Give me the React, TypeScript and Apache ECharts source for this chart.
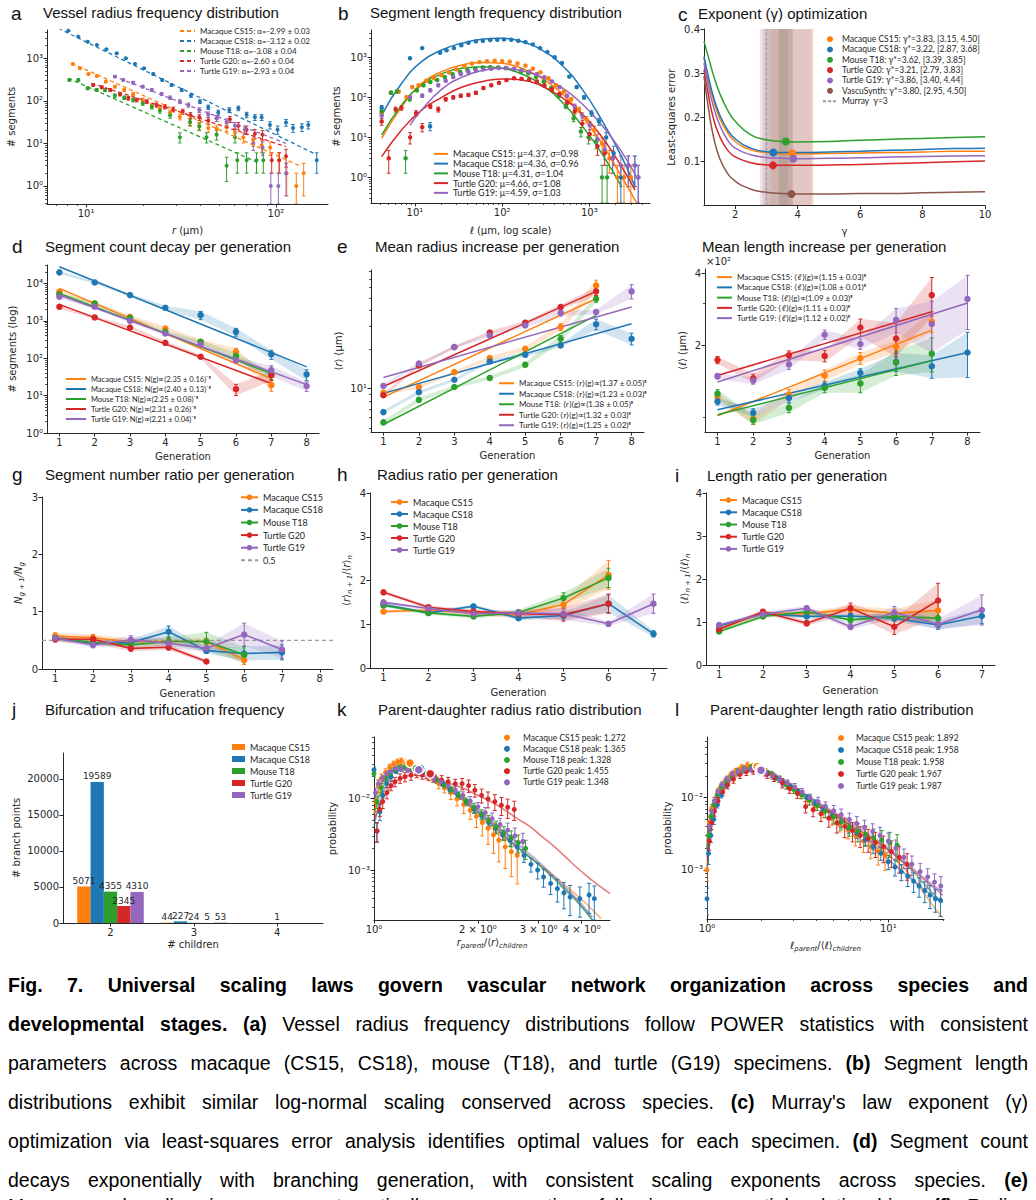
import React, { useEffect, useRef } from 'react';
import * as echarts from 'echarts';

// ---------------- shared ----------------
const COL = ['#ff7f0e', '#1f77b4', '#2ca02c', '#d62728', '#9467bd'];
const BROWN = '#8c564b';
const SPECIES = ['Macaque CS15', 'Macaque CS18', 'Mouse T18', 'Turtle G20', 'Turtle G19'];
const INK = '#262626';
const TICKF = 'DejaVu Sans';
const LEGF = 'Lato';
const TITLEF = 'Liberation Sans';

// ---------------- a: radius frequency ----------------
const A_CS15 = [[8.51,736],[9.3,582],[10.3,429],[11.4,384],[12.7,283],[14.2,216],[15.9,180],[17.7,143],[19.9,105],[22.2,76],[24.5,67],[27.7,53],[31.2,42],[35.3,31],[39.5,26],[44,23],[48.7,22],[55,24],[60.9,18],[67.3,14],[76,12],[84.1,9],[93.2,8],[104,4],[114,2],[128,1],[140,2]];
const A_CS18 = [[7.24,4890],[8.07,4470],[9.11,3230],[10.2,2460],[11.4,2060],[12.8,1630],[14.5,1310],[16.2,1000],[18.1,736],[20.2,582],[22.6,428],[25.2,310],[28.2,236],[31.9,180],[35.7,133],[39.8,96],[44,71],[49.7,53],[56.8,61],[63.4,67],[70.1,47],[77.5,41],[84.1,41],[93,27],[102,21],[113,31],[123,23],[137,24],[148,27],[164,4]];
const A_T18 = [[8.17,310],[9.11,310],[10.2,197],[11.4,180],[12.6,180],[14.2,133],[15.9,119],[17.7,105],[19.9,88],[22.2,73],[24.5,59],[27.7,46],[31.2,14],[35.3,32],[39.5,25],[43.1,14],[48.7,16],[55,3],[60.9,14],[62.6,4],[70.1,4],[79,4],[85.8,4]];
const A_G20 = [[10.9,236],[12.1,208],[13.4,180],[15.1,143],[16.7,115],[18.5,105],[20.9,96],[23.5,80],[26,73],[28.8,63],[32.3,56],[35.5,46],[39.5,41],[44,34],[48.7,39],[57.2,37],[63.4,26],[70.1,21],[77.5,17],[85,16],[95,4],[104,4],[113,5]];
const A_G19 = [[14.2,371],[15.7,310],[17.7,268],[19.9,216],[22.2,180],[25,145],[27.7,119],[31.2,96],[34.6,80],[39.5,61],[44,48],[48.7,39],[55,32],[60.9,26],[68.5,21],[76,10],[85,8],[94,1],[103,1],[113,2]];
const A_PTS = [A_CS15, A_CS18, A_T18, A_G20, A_G19];
const A_FIT = [[[8.4,763],[136,2.86]], [[7.15,5070],[164,5.4]], [[8.07,340],[82,3.4]], [[10.7,259],[113,8.4]], [[13.9,384],[113,10]]];
const A_LEG = ['Macaque CS15: α=-2.99 ± 0.03', 'Macaque CS18: α=-3.12 ± 0.02', 'Mouse T18: α=-3.08 ± 0.04', 'Turtle G20: α=-2.60 ± 0.04', 'Turtle G19: α=-2.93 ± 0.04'];

// ---------------- b: length frequency ----------------
const B_CS15 = [[4.15,40],[5.3,130],[6.5,140],[8,100],[9.3,180],[11,200],[13.5,260],[16.5,300],[20,360],[24.5,420],[30,500],[37,600],[45,700],[55,760],[67,800],[82,820],[100,800],[122,780],[150,700],[185,620],[225,520],[275,420],[340,300],[415,200],[510,140],[620,90],[760,50],[930,28],[1140,15],[1400,7],[1700,3],[2100,1],[2500,1],[3000,1]];
const B_CS18 = [[4.15,55],[8.76,950],[12.1,1700],[14.9,19],[19.4,1300],[23,1500],[28,1700],[34,2000],[41,2300],[50,2500],[60,2600],[73,2700],[88,2750],[105,2800],[127,2750],[153,2600],[185,2400],[225,2100],[272,1700],[330,1350],[400,1000],[485,720],[590,330],[715,180],[870,100],[1060,40],[1290,25],[1560,10],[1900,4],[2300,1],[2800,2],[3340,2],[3640,1]];
const B_T18 = [[4.15,45],[5.3,130],[6.2,140],[7.8,3],[8.7,90],[10.5,150],[12.5,200],[15,240],[18,270],[22,320],[27,380],[33,430],[40,480],[49,520],[60,560],[73,570],[90,560],[110,540],[135,500],[165,450],[200,400],[245,320],[300,250],[365,170],[445,110],[540,60],[660,30],[800,14],[980,10],[1200,8],[1400,1],[1600,1]];
const B_G20 = [[4.15,25],[5,3],[6,50],[7,55],[8.8,10],[10.3,40],[12.1,18],[15,60],[18.5,50],[22.5,90],[27.5,100],[33.5,110],[41,115],[50,130],[61,170],[75,200],[92,230],[112,270],[137,300],[167,290],[204,280],[250,250],[305,200],[372,160],[455,120],[555,75],[680,45],[830,22],[1010,12],[1240,6],[1500,4],[1850,3]];
const B_G19 = [[4.15,35],[8.76,100],[12.1,110],[15,150],[18.5,200],[22.5,260],[27.5,320],[33.5,380],[41,430],[50,470],[61,500],[75,520],[92,540],[112,540],[137,520],[167,480],[204,440],[250,380],[305,320],[372,250],[455,180],[555,110],[680,60],[830,35],[1010,20],[1240,9],[1500,5],[1850,3],[2300,2],[2800,2],[3300,2],[3640,1]];
const B_PTS = [B_CS15, B_CS18, B_T18, B_G20, B_G19];
const B_FIT = [
  [[4.15,9.4],[7.03,58],[11.9,224],[20.2,438],[34.3,643],[58.2,740],[98.5,708],[168,531],[284,299],[482,126],[815,36],[1387,7.1],[2345,1.04],[3490,0.23]],
  [[4.15,36],[7.03,224],[11.9,780],[20.2,1526],[34.3,2240],[58.2,2820],[98.5,2985],[168,2460],[284,1526],[482,643],[815,168],[1387,27],[2345,3.3],[3340,0.58]],
  [[4.15,11.4],[7.03,64],[11.9,203],[20.2,383],[34.3,531],[58.2,584],[98.5,531],[168,383],[284,203],[482,78],[815,20.3],[1387,4],[2345,0.58]],
  [[4.15,3.3],[7.03,15.3],[11.9,48],[20.2,100],[34.3,178],[58.2,246],[98.5,287],[168,271],[284,192],[482,100],[815,40],[1387,10.4],[2345,1.85],[3340,0.48]],
  [[8.77,20.3],[11.9,48],[20.2,158],[34.3,316],[58.2,464],[98.5,531],[168,464],[284,324],[482,178],[815,71],[1387,20.3],[2345,4.4],[3640,0.86]],
];
const B_LEG = ['Macaque CS15: μ=4.37, σ=0.98', 'Macaque CS18: μ=4.36, σ=0.96', 'Mouse T18: μ=4.31, σ=1.04', 'Turtle G20: μ=4.66, σ=1.08', 'Turtle G19: μ=4.59, σ=1.03'];

// ---------------- c: exponent optimisation ----------------
const C_GAMMA = [1, 1.15, 1.3, 1.5, 1.75, 2, 2.5, 3, 3.5, 4, 5, 6, 7, 8, 9, 10];
const C_ERR = [
  [0.334,0.281,0.240,0.198,0.166,0.145,0.126,0.120,0.117,0.117,0.118,0.119,0.120,0.121,0.123,0.123],
  [0.338,0.289,0.247,0.206,0.172,0.151,0.130,0.122,0.120,0.120,0.121,0.123,0.125,0.127,0.129,0.130],
  [0.372,0.334,0.296,0.255,0.217,0.191,0.160,0.149,0.145,0.144,0.145,0.148,0.150,0.152,0.154,0.156],
  [0.308,0.247,0.198,0.157,0.126,0.110,0.097,0.092,0.091,0.091,0.092,0.093,0.095,0.097,0.099,0.101],
  [0.323,0.268,0.225,0.183,0.149,0.130,0.115,0.109,0.107,0.106,0.107,0.108,0.110,0.111,0.112,0.113],
  [0.293,0.217,0.157,0.107,0.073,0.055,0.037,0.030,0.027,0.026,0.026,0.027,0.027,0.029,0.030,0.031],
];
const C_OPT = [3.83, 3.22, 3.62, 3.21, 3.86, 3.80];
const C_OPT_ERR = [0.118, 0.120, 0.145, 0.091, 0.106, 0.026];
const C_CI = [[3.15,4.50],[2.87,3.68],[3.39,3.85],[2.79,3.83],[3.40,4.44],[2.95,4.50]];
const C_LEG = ['Macaque CS15: γ*=3.83, [3.15, 4.50]', 'Macaque CS18: γ*=3.22, [2.87, 3.68]', 'Mouse T18: γ*=3.62, [3.39, 3.85]', 'Turtle G20: γ*=3.21, [2.79, 3.83]', 'Turtle G19: γ*=3.86, [3.40, 4.44]', 'VascuSynth: γ*=3.80, [2.95, 4.50]'];
const MURRAY = 3;

// ---------------- d: segment counts ----------------
const D_VAL = [
  [5980,2910,1280,624,274,148,19],
  [19700,10600,4870,2230,1420,507,128,37],
  [5070,2900,1200,507,274,115,35],
  [2370,1230,662,257,109,15,35],
  [4400,2370,1000,457,232,88,48,18],
];
const D_ERR = [
  [600,250,120,80,40,35,6],
  [2000,800,400,300,350,120,35,12],
  [500,250,100,50,30,25,8],
  [300,100,60,30,12,5,10],
  [500,250,120,50,30,15,15,5],
];
const D_FIT = [[[1,7350],[7,28.5]], [[1,27900],[8,58.6]], [[1,5400],[7,38.8]], [[1,2740],[7,21]], [[1,4870],[8,19.7]]];
const D_LEG = ['Macaque CS15: N(g)∝(2.35 ± 0.16)⁻ᵍ', 'Macaque CS18: N(g)∝(2.40 ± 0.13)⁻ᵍ', 'Mouse T18: N(g)∝(2.25 ± 0.08)⁻ᵍ', 'Turtle G20: N(g)∝(2.31 ± 0.26)⁻ᵍ', 'Turtle G19: N(g)∝(2.21 ± 0.04)⁻ᵍ'];

// ---------------- e: mean radius ----------------
const E_VAL = [
  [9.3,10.3,13.4,17.2,20.3,29.8,62.3],
  [6.6,9.4,11.7,16.2,18.3,21.5,31.3,24.2],
  [5.5,8.2,10.3,12.1,15.3,24.2,49.2],
  [8.9,15.1,20.9,27,32.2,42.5,56.1],
  [10.5,15.6,20.9,25.7,30.7,38.2,38.9,56.1],
];
const E_ERR = [
  [0.3,0.3,0.4,0.6,0.8,1.8,6],
  [0.2,0.3,0.3,0.5,0.8,0.6,3,2.5],
  [0.2,0.3,0.3,0.4,0.6,1.5,3],
  [0.3,0.4,0.5,0.8,1,2,4],
  [0.3,0.4,0.5,0.7,1,2,1.5,7],
];
const E_FIT = [[[1,8.6],[7,49.2]], [[1,9.2],[8,31.6]], [[1,5.3],[7,36.7]], [[1,10.4],[7,56.1]], [[1,12.2],[8,42.5]]];
const E_LEG = ['Macaque CS15: ⟨r⟩(g)∝(1.37 ± 0.05)ᵍ', 'Macaque CS18: ⟨r⟩(g)∝(1.23 ± 0.03)ᵍ', 'Mouse T18: ⟨r⟩(g)∝(1.38 ± 0.05)ᵍ', 'Turtle G20: ⟨r⟩(g)∝(1.32 ± 0.03)ᵍ', 'Turtle G19: ⟨r⟩(g)∝(1.25 ± 0.02)ᵍ'];

// ---------------- f: mean length ----------------
const F_VAL = [
  [121,98,124,149,176,197,251],
  [116,104,120,135,153,170,163,186],
  [125,97,109,132,138,169,184],
  [173,145,181,180,237,213,324],
  [148,142,166,221,202,255,245,312],
];
const F_ERR = [
  [4,5,6,8,10,12,25],
  [4,4,5,5,6,15,18,40],
  [5,4,5,6,12,20,30],
  [6,6,8,10,20,35,60],
  [4,5,8,10,10,30,60,80],
];
const F_FIT = [[[1,101],[7,231]], [[1,107],[8,186]], [[1,102],[7,172]], [[1,149],[7,276]], [[1,140],[8,300]]];
const F_LEG = ['Macaque CS15: ⟨ℓ⟩(g)∝(1.15 ± 0.03)ᵍ', 'Macaque CS18: ⟨ℓ⟩(g)∝(1.08 ± 0.01)ᵍ', 'Mouse T18: ⟨ℓ⟩(g)∝(1.09 ± 0.03)ᵍ', 'Turtle G20: ⟨ℓ⟩(g)∝(1.11 ± 0.03)ᵍ', 'Turtle G19: ⟨ℓ⟩(g)∝(1.12 ± 0.02)ᵍ'];

// ---------------- g/h/i: ratios ----------------
const G_VAL = [
  [0.58,0.54,0.48,0.48,0.48,0.16],
  [0.54,0.45,0.46,0.65,0.32,0.27,0.29],
  [0.54,0.46,0.42,0.48,0.48,0.25],
  [0.52,0.52,0.36,0.38,0.13],
  [0.54,0.42,0.51,0.45,0.36,0.6,0.34],
];
const G_ERR = [
  [0.05,0.06,0.05,0.05,0.06,0.08],
  [0.04,0.04,0.05,0.1,0.05,0.12,0.13],
  [0.04,0.04,0.05,0.08,0.16,0.14],
  [0.05,0.07,0.05,0.05,0.03],
  [0.05,0.05,0.07,0.08,0.06,0.2,0.15],
];
const G_REF = 0.5;
const H_VAL = [
  [1.29,1.32,1.26,1.22,1.45,2.13],
  [1.45,1.26,1.41,1.14,1.2,1.47,0.78],
  [1.43,1.26,1.18,1.27,1.6,2.06],
  [1.73,1.39,1.29,1.24,1.22,1.47],
  [1.5,1.36,1.24,1.26,1.24,1.01,1.47],
];
const H_ERR = [
  [0.03,0.04,0.05,0.08,0.12,0.33],
  [0.03,0.04,0.04,0.05,0.08,0.2,0.07],
  [0.03,0.04,0.04,0.06,0.12,0.22],
  [0.04,0.04,0.05,0.07,0.15,0.22],
  [0.03,0.04,0.05,0.06,0.14,0.05,0.22],
];
const I_VAL = [
  [0.85,1.2,1.19,1.3,1.2,1.27],
  [0.91,1.19,1.13,1.14,1.09,0.93,1.14],
  [0.78,1.13,1.24,1.05,1.13,1.09],
  [0.83,1.24,0.97,1.32,0.89,1.5],
  [0.93,1.18,1.32,0.89,1.22,0.95,1.28],
];
const I_ERR = [
  [0.04,0.05,0.06,0.08,0.1,0.25],
  [0.04,0.04,0.05,0.06,0.07,0.1,0.18],
  [0.04,0.04,0.05,0.06,0.1,0.15],
  [0.04,0.05,0.06,0.12,0.18,0.4],
  [0.04,0.05,0.06,0.07,0.14,0.12,0.35],
];

// ---------------- j: branching ----------------
const J_CHILDREN = [2, 3, 4];
const J_COUNTS = [[5071,44,0],[19589,227,0],[4355,24,1],[2345,5,0],[4310,53,0]];

// ---------------- k: radius ratio distribution [x, p, relErr] ----------------
const K_CS15 = [[1.01,0.009,0.3],[1.03,0.015,0.2],[1.05,0.019,0.15],[1.08,0.023,0.12],[1.11,0.027,0.1],[1.14,0.03,0.1],[1.17,0.032,0.1],[1.2,0.033,0.1],[1.24,0.031,0.1],[1.28,0.029,0.1],[1.32,0.026,0.1],[1.37,0.024,0.12],[1.42,0.021,0.12],[1.48,0.019,0.12],[1.54,0.016,0.15],[1.6,0.014,0.15],[1.67,0.012,0.2],[1.74,0.0098,0.2],[1.82,0.0082,0.25],[1.9,0.0068,0.25],[1.98,0.0056,0.3],[2.06,0.0046,0.35],[2.14,0.0038,0.4],[2.22,0.0031,0.45],[2.3,0.0026,0.5],[2.4,0.0021,0.5],[2.5,0.0018,0.55],[2.6,0.0016,0.6]];
const K_CS18 = [[1.0,0.025,0.1],[1.02,0.0035,0.3],[1.04,0.0065,0.25],[1.06,0.011,0.15],[1.09,0.016,0.12],[1.12,0.02,0.1],[1.16,0.024,0.08],[1.2,0.026,0.08],[1.25,0.027,0.08],[1.3,0.026,0.08],[1.36,0.024,0.08],[1.42,0.022,0.08],[1.5,0.019,0.08],[1.58,0.016,0.08],[1.66,0.013,0.1],[1.75,0.011,0.1],[1.85,0.0088,0.1],[1.95,0.007,0.12],[2.05,0.0057,0.12],[2.15,0.0046,0.12],[2.25,0.0038,0.15],[2.36,0.0031,0.15],[2.48,0.0026,0.18],[2.6,0.0021,0.2],[2.72,0.0016,0.2],[2.85,0.0012,0.22],[2.98,0.001,0.25],[3.1,0.0008,0.28],[3.25,0.00065,0.3],[3.4,0.00055,0.35],[3.55,0.00048,0.4],[3.7,0.00042,0.45],[3.95,0.0004,0.45],[4.2,0.00045,0.45],[4.35,0.0004,0.5]];
const K_T18 = [[1.0,0.022,0.1],[1.02,0.009,0.2],[1.05,0.014,0.15],[1.08,0.019,0.1],[1.11,0.022,0.1],[1.15,0.025,0.08],[1.19,0.027,0.08],[1.23,0.027,0.08],[1.28,0.026,0.08],[1.33,0.025,0.08],[1.39,0.023,0.08],[1.45,0.021,0.08],[1.52,0.018,0.1],[1.6,0.015,0.1],[1.68,0.013,0.1],[1.76,0.011,0.12],[1.85,0.009,0.12],[1.95,0.0074,0.15],[2.05,0.006,0.15],[2.15,0.0049,0.18],[2.26,0.004,0.2],[2.38,0.0033,0.22],[2.5,0.0028,0.25],[2.62,0.0024,0.28],[2.75,0.002,0.3]];
const K_G20 = [[1.02,0.0035,0.3],[1.04,0.007,0.2],[1.06,0.009,0.2],[1.09,0.012,0.18],[1.12,0.015,0.15],[1.15,0.017,0.15],[1.19,0.019,0.15],[1.23,0.02,0.15],[1.28,0.021,0.15],[1.33,0.022,0.12],[1.38,0.021,0.12],[1.44,0.02,0.12],[1.5,0.019,0.12],[1.57,0.018,0.15],[1.64,0.017,0.15],[1.72,0.016,0.15],[1.8,0.016,0.18],[1.88,0.015,0.2],[1.96,0.013,0.2],[2.05,0.011,0.22],[2.14,0.0098,0.25],[2.24,0.009,0.25],[2.34,0.008,0.28],[2.44,0.0075,0.3],[2.55,0.007,0.3]];
const K_G19 = [[1.01,0.012,0.15],[1.03,0.016,0.12],[1.06,0.019,0.1],[1.09,0.022,0.1],[1.12,0.024,0.1],[1.16,0.026,0.08],[1.2,0.026,0.08],[1.25,0.025,0.08],[1.3,0.025,0.08],[1.36,0.023,0.08],[1.42,0.021,0.1],[1.49,0.019,0.1],[1.56,0.017,0.1],[1.64,0.015,0.1],[1.72,0.013,0.12],[1.81,0.011,0.12],[1.9,0.0092,0.15],[2.0,0.0076,0.15],[2.1,0.0063,0.18],[2.2,0.0052,0.2],[2.32,0.0043,0.22],[2.44,0.0036,0.25],[2.56,0.003,0.28],[2.7,0.0025,0.3]];
const K_PTS = [K_CS15, K_CS18, K_T18, K_G20, K_G19];
const K_FIT = [
  [[1.0,0.006],[1.1,0.024],[1.2,0.031],[1.3,0.029],[1.45,0.022],[1.6,0.015],[1.8,0.0095],[2.0,0.006],[2.2,0.0038],[2.4,0.0027],[2.7,0.0018],[3.0,0.0012],[3.3,0.00085],[3.6,0.0006],[3.9,0.00043],[4.2,0.00031],[4.55,0.00021]],
  [[1.0,0.004],[1.1,0.018],[1.2,0.026],[1.35,0.025],[1.5,0.019],[1.7,0.012],[1.9,0.0078],[2.1,0.0051],[2.4,0.0029],[2.7,0.0018],[3.0,0.0012],[3.3,0.0008],[3.6,0.00053],[3.9,0.00036],[4.3,0.0002]],
  [[1.0,0.006],[1.1,0.02],[1.2,0.027],[1.35,0.025],[1.5,0.019],[1.7,0.012],[1.9,0.008],[2.1,0.0053],[2.4,0.003],[2.7,0.0018],[3.0,0.0012],[3.3,0.00078],[3.6,0.00051],[3.9,0.00035],[4.3,0.0002]],
  [[1.0,0.005],[1.1,0.013],[1.2,0.019],[1.3,0.021],[1.45,0.02],[1.6,0.017],[1.8,0.014],[2.0,0.011],[2.2,0.0088],[2.4,0.0068],[2.6,0.0052],[2.8,0.0042],[3.0,0.0032],[3.3,0.0022],[3.6,0.0015],[3.9,0.00105],[4.2,0.00078],[4.5,0.0006],[4.83,0.00047]],
  [[1.0,0.01],[1.1,0.022],[1.2,0.026],[1.35,0.023],[1.5,0.018],[1.7,0.012],[1.9,0.0085],[2.1,0.0058],[2.4,0.0033],[2.7,0.002],[3.0,0.0013],[3.3,0.00085],[3.6,0.00056],[3.9,0.00038],[4.3,0.00022]],
];
const K_PEAK = [[1.272,0.031],[1.365,0.026],[1.328,0.026],[1.455,0.022],[1.348,0.025]];
const K_LEG = ['Macaque CS15 peak: 1.272', 'Macaque CS18 peak: 1.365', 'Mouse T18 peak: 1.328', 'Turtle G20 peak: 1.455', 'Turtle G19 peak: 1.348'];

// ---------------- l: length ratio distribution [x, p, relErr] ----------------
const L_CS15 = [[1.0,0.001,0.3],[1.03,0.0045,0.2],[1.06,0.007,0.15],[1.1,0.009,0.12],[1.15,0.012,0.1],[1.2,0.014,0.1],[1.27,0.017,0.1],[1.35,0.02,0.1],[1.45,0.023,0.1],[1.55,0.026,0.1],[1.67,0.028,0.1],[1.8,0.027,0.1],[1.95,0.025,0.1],[2.1,0.023,0.1],[2.3,0.02,0.1],[2.5,0.018,0.1],[2.75,0.015,0.12],[3.0,0.013,0.12],[3.3,0.011,0.12],[3.6,0.0092,0.15],[4.0,0.0078,0.15],[4.4,0.0064,0.18],[4.9,0.0052,0.2],[5.4,0.0043,0.22],[6.0,0.0036,0.25],[6.6,0.003,0.28],[7.3,0.0025,0.3],[8.0,0.0021,0.32],[8.8,0.0018,0.35],[9.6,0.0016,0.38]];
const L_CS18 = [[1.0,0.0004,0.4],[1.02,0.0017,0.3],[1.05,0.003,0.2],[1.09,0.005,0.15],[1.14,0.008,0.1],[1.2,0.011,0.1],[1.28,0.015,0.08],[1.38,0.019,0.08],[1.5,0.022,0.08],[1.63,0.024,0.08],[1.78,0.025,0.08],[1.95,0.024,0.08],[2.15,0.022,0.08],[2.38,0.019,0.08],[2.62,0.016,0.1],[2.9,0.014,0.1],[3.2,0.012,0.1],[3.55,0.01,0.1],[3.95,0.0083,0.12],[4.4,0.0068,0.12],[4.9,0.0056,0.12],[5.45,0.0046,0.15],[6.05,0.0038,0.15],[6.7,0.0032,0.15],[7.45,0.0026,0.18],[8.25,0.0021,0.2],[9.1,0.0017,0.2],[10,0.0013,0.22],[10.9,0.0011,0.25],[11.8,0.00095,0.25],[12.8,0.00082,0.28],[13.8,0.0007,0.3],[14.8,0.0006,0.3],[15.9,0.00052,0.32],[17,0.00045,0.35],[18.2,0.0004,0.35],[19.4,0.00038,0.4]];
const L_T18 = [[1.02,0.003,0.25],[1.05,0.0055,0.2],[1.09,0.008,0.15],[1.14,0.011,0.12],[1.2,0.014,0.1],[1.28,0.017,0.1],[1.37,0.02,0.1],[1.48,0.023,0.1],[1.6,0.025,0.1],[1.74,0.026,0.1],[1.9,0.025,0.1],[2.07,0.023,0.1],[2.27,0.021,0.1],[2.5,0.018,0.1],[2.75,0.015,0.12],[3.02,0.013,0.12],[3.33,0.011,0.12],[3.68,0.0093,0.15],[4.06,0.0078,0.15],[4.5,0.0065,0.18],[5.0,0.0054,0.2],[5.5,0.0046,0.22],[6.1,0.0039,0.25],[6.8,0.0034,0.28],[7.5,0.0031,0.3],[8.3,0.0028,0.32],[9.2,0.0026,0.35],[10.2,0.0024,0.38],[11.2,0.0022,0.4]];
const L_G20 = [[1.03,0.0025,0.25],[1.06,0.0045,0.2],[1.1,0.0065,0.15],[1.15,0.009,0.12],[1.22,0.012,0.12],[1.3,0.015,0.12],[1.4,0.018,0.12],[1.52,0.021,0.12],[1.65,0.023,0.12],[1.8,0.024,0.12],[1.97,0.023,0.12],[2.15,0.021,0.12],[2.35,0.019,0.12],[2.6,0.016,0.15],[2.85,0.0135,0.15],[3.15,0.0115,0.15],[3.5,0.0075,0.18],[3.85,0.0068,0.2],[4.25,0.006,0.22],[4.7,0.0052,0.25],[5.2,0.0045,0.28],[5.75,0.004,0.3],[6.35,0.0035,0.3],[7.0,0.003,0.32],[7.75,0.0027,0.35],[8.5,0.0024,0.38],[9.4,0.0021,0.4],[10.4,0.0018,0.4],[11.5,0.0015,0.4],[12.7,0.0012,0.4]];
const L_G19 = [[1.03,0.004,0.2],[1.06,0.0065,0.15],[1.1,0.009,0.12],[1.15,0.012,0.1],[1.21,0.015,0.1],[1.29,0.018,0.1],[1.38,0.021,0.1],[1.49,0.023,0.1],[1.62,0.025,0.1],[1.76,0.025,0.1],[1.92,0.024,0.1],[2.1,0.022,0.1],[2.3,0.02,0.1],[2.52,0.018,0.1],[2.78,0.016,0.1],[3.05,0.014,0.12],[3.35,0.012,0.12],[3.7,0.01,0.12],[4.1,0.0088,0.15],[4.5,0.0076,0.15],[5.0,0.0066,0.18],[5.5,0.0058,0.2],[6.1,0.005,0.22],[6.7,0.0044,0.25],[7.4,0.0039,0.25],[8.2,0.0034,0.28],[9.0,0.003,0.3],[10,0.0025,0.3],[11,0.002,0.3],[12.2,0.0015,0.3],[13.5,0.0012,0.3],[15,0.00095,0.3],[16.5,0.0008,0.3],[18,0.00068,0.3],[19.5,0.0006,0.35]];
const L_PTS = [L_CS15, L_CS18, L_T18, L_G20, L_G19];
const L_FIT = [
  [[1.0,0.002],[1.1,0.01],[1.3,0.02],[1.6,0.027],[1.9,0.027],[2.3,0.021],[2.8,0.015],[3.5,0.0098],[4.5,0.0065],[6,0.0041],[8,0.0025],[10,0.0016],[12,0.0011],[14,0.0007],[16,0.00045],[18,0.0003],[20,0.00022]],
  [[1.0,0.0015],[1.1,0.007],[1.3,0.016],[1.6,0.023],[1.9,0.024],[2.3,0.02],[2.8,0.015],[3.5,0.0105],[4.5,0.007],[6,0.0043],[8,0.0024],[10,0.0014],[12,0.00095],[14,0.00068],[16,0.00052],[18,0.00042],[20,0.00036]],
  [[1.0,0.002],[1.1,0.009],[1.3,0.019],[1.6,0.025],[1.9,0.025],[2.3,0.021],[2.8,0.015],[3.5,0.01],[4.5,0.0068],[6,0.0043],[8,0.0028],[10,0.0019],[12,0.0013],[14,0.0009],[16,0.00062],[18,0.00045],[20,0.00035]],
  [[1.0,0.001],[1.1,0.006],[1.3,0.015],[1.6,0.022],[1.9,0.024],[2.3,0.021],[2.8,0.016],[3.5,0.011],[4.5,0.0072],[6,0.0045],[8,0.0028],[10,0.0019],[12,0.0013],[14,0.00095],[16,0.00072],[18,0.00056],[20,0.00045]],
  [[1.0,0.0025],[1.1,0.009],[1.3,0.018],[1.6,0.024],[1.9,0.025],[2.3,0.021],[2.8,0.016],[3.5,0.011],[4.5,0.0075],[6,0.0048],[8,0.003],[10,0.002],[12,0.0014],[14,0.001],[16,0.00075],[18,0.0006],[20,0.0005]],
];
const L_PEAK = [[1.892,0.027],[1.958,0.023],[1.958,0.025],[1.967,0.024],[1.987,0.024]];
const L_LEG = ['Macaque CS15 peak: 1.892', 'Macaque CS18 peak: 1.958', 'Mouse T18 peak: 1.958', 'Turtle G20 peak: 1.967', 'Turtle G19 peak: 1.987'];

// ---------------- titles & caption ----------------
const TITLES = [
  ['a', 11, 13, 'Vessel radius frequency distribution', 43, 12],
  ['b', 338, 13, 'Segment length frequency distribution', 370, 12],
  ['c', 678, 14, 'Exponent (γ) optimization', 698, 13],
  ['d', 12, 246, 'Segment count decay per generation', 45, 246],
  ['e', 337, 246, 'Mean radius increase per generation', 375, 246],
  ['', 0, 0, 'Mean length increase per generation', 702, 246],
  ['g', 12, 474, 'Segment number ratio per generation', 45, 474],
  ['h', 337, 474, 'Radius ratio per generation', 377, 474],
  ['i', 675, 475, 'Length ratio per generation', 707, 475],
  ['j', 12, 709, 'Bifurcation and trifucation frequency', 45, 709],
  ['k', 337, 709, 'Parent-daughter radius ratio distribution', 378, 709],
  ['l', 675, 709, 'Parent-daughter length ratio distribution', 710, 709],
];
const CAPTION = [
  [['b', 'Fig. 7. Universal scaling laws govern vascular network organization across species and']],
  [['b', 'developmental stages.'], ['n', ' '], ['b', '(a)'], ['n', ' Vessel radius frequency distributions follow POWER statistics with consistent']],
  [['n', 'parameters across macaque (CS15, CS18), mouse (T18), and turtle (G19) specimens. '], ['b', '(b)'], ['n', ' Segment length']],
  [['n', 'distributions exhibit similar log-normal scaling conserved across species. '], ['b', '(c)'], ['n', " Murray's law exponent (γ)"]],
  [['n', 'optimization via least-squares error analysis identifies optimal values for each specimen. '], ['b', '(d)'], ['n', ' Segment count']],
  [['n', 'decays exponentially with branching generation, with consistent scaling exponents across species. '], ['b', '(e)']],
  [['n', 'Mean vessel radius increases systematically per generation, following exponential relationships. '], ['b', '(f)'], ['n', ' Radius']],
];
const CAP_CENTERS = [985, 1024, 1063, 1102, 1141, 1180, 1206];
const CAP_LH = 30;

// ---------------- helpers ----------------
const SUPMAP: Record<string, string> = { '0': '⁰', '1': '¹', '2': '²', '3': '³', '4': '⁴', '5': '⁵', '6': '⁶', '7': '⁷', '8': '⁸', '9': '⁹', '-': '⁻' };
const sup = (n: number) => String(n).split('').map((c) => SUPMAP[c]).join('');
const pow10 = (v: number) => '10' + sup(Math.round(Math.log10(v)));
function logMinor(min: number, max: number) {
  const out: number[] = [];
  for (let e = -5; e <= 5; e++) for (let m = 2; m <= 9; m++) {
    const v = parseFloat((m * Math.pow(10, e)).toPrecision(6));
    if (v > min && v < max) out.push(v);
  }
  return out;
}
const NAME_RICH = {
  i: { fontStyle: 'italic', fontSize: 10, fontFamily: TICKF, color: INK, lineHeight: 14 },
  s: { fontStyle: 'italic', fontSize: 7, fontFamily: TICKF, color: INK, lineHeight: 7, verticalAlign: 'bottom' },
};
const range = (a: number, b: number) => { const r: number[] = []; for (let i = a; i <= b; i++) r.push(i); return r; };

function buildOption() {
  const grid: any[] = [], xAxis: any[] = [], yAxis: any[] = [], series: any[] = [], legend: any[] = [], elements: any[] = [];

  const mkAxis = (gi: number, position: string, a: any) => ({
    gridIndex: gi, position, type: a.type || 'value', min: a.min, max: a.max, logBase: 10,
    name: a.name, nameLocation: 'middle', nameGap: a.nameGap,
    nameTextStyle: { color: INK, fontSize: 10, fontFamily: TICKF, lineHeight: 14, rich: NAME_RICH },
    axisLine: { show: true, onZero: false, lineStyle: { color: INK, width: 1 } },
    axisTick: { show: true, length: 3.5, lineStyle: { color: INK, width: 1 }, customValues: a.ticks },
    axisLabel: { show: true, color: INK, fontSize: 10, fontFamily: TICKF, margin: 4, customValues: a.ticks, formatter: a.fmt || ((v: number) => String(v)) },
    splitLine: { show: false },
  });
  const minorAxis = (gi: number, position: string, a: any, vals: number[]) => ({
    gridIndex: gi, position, type: a.type || 'value', min: a.min, max: a.max, logBase: 10,
    axisLine: { show: false }, axisLabel: { show: false }, splitLine: { show: false },
    axisTick: { show: true, length: 2, lineStyle: { color: INK, width: 0.8 }, customValues: vals },
  });
  const addPanel = (rect: number[], xa: any, ya: any, minX?: number[] | null, minY?: number[] | null) => {
    const gi = grid.length;
    grid.push({ left: rect[0], top: rect[1], width: rect[2], height: rect[3], containLabel: false });
    const xi = xAxis.length; xAxis.push(mkAxis(gi, 'bottom', xa));
    const yi = yAxis.length; yAxis.push(mkAxis(gi, 'left', ya));
    if (minX) xAxis.push(minorAxis(gi, 'bottom', xa, minX));
    if (minY) yAxis.push(minorAxis(gi, 'left', ya, minY));
    return { xAxisIndex: xi, yAxisIndex: yi };
  };
  const errS = (ix: any, pts: number[][], color: string, cap = 2, lw = 1, z = 3) => ({
    type: 'custom', ...ix, z, silent: true, clip: true, data: pts,
    renderItem: (p: any, api: any) => {
      const x = api.value(0), lo = api.value(1), hi = api.value(2);
      const a = api.coord([x, lo]), b = api.coord([x, hi]);
      const st = { stroke: color, lineWidth: lw };
      return { type: 'group', children: [
        { type: 'line', shape: { x1: a[0], y1: a[1], x2: b[0], y2: b[1] }, style: st },
        { type: 'line', shape: { x1: a[0] - cap, y1: a[1], x2: a[0] + cap, y2: a[1] }, style: st },
        { type: 'line', shape: { x1: b[0] - cap, y1: b[1], x2: b[0] + cap, y2: b[1] }, style: st },
      ] };
    },
  });
  const bandS = (ix: any, pts: number[][], color: string, alpha: number, z = 1) => ({
    type: 'custom', ...ix, z, silent: true, clip: true, data: pts,
    renderItem: (p: any, api: any) => {
      if (p.dataIndex !== 0) return null;
      const up = pts.map((q) => api.coord([q[0], q[2]]));
      const dn = pts.map((q) => api.coord([q[0], q[1]])).reverse();
      return { type: 'polygon', shape: { points: up.concat(dn) }, style: { fill: color, opacity: alpha } };
    },
  });
  const lineS = (ix: any, name: any, data: any[], color: string, o: any = {}) => ({
    type: 'line', ...ix, name, data, symbol: o.symbol || 'none', symbolSize: o.symbolSize || 6, smooth: !!o.smooth,
    lineStyle: { color, width: 1.5, opacity: 1, ...(o.ls || {}) }, itemStyle: { color }, z: o.z || 4, silent: true,
  });
  const scatS = (ix: any, name: any, data: any[], color: string, size: number, o: any = {}) => ({
    type: 'scatter', ...ix, name, data, symbolSize: size, itemStyle: { color, opacity: 1, ...(o.is || {}) }, z: o.z || 5, silent: true,
  });
  const leg = (names: any[], left: number, top: number, o: any) => {
    const l: any = {
      show: true, orient: 'vertical', left, top, padding: 0, itemGap: 0, itemWidth: o.w, itemHeight: o.h, data: names,
      selectedMode: false, formatter: (n: string) => n.split('|')[1],
      textStyle: { fontSize: o.fs, fontFamily: LEGF, color: INK, lineHeight: o.pitch },
    };
    if (o.icon) l.icon = o.icon;
    if (o.noSymbol) l.itemStyle = { opacity: 0 };
    return l;
  };

  // ---- a ----
  {
    const yMin = 0.377;
    const ix = addPanel([47, 30, 281, 174],
      { type: 'log', min: 6.23, max: 188, ticks: [10, 100], fmt: pow10, name: '{i|r} (μm)', nameGap: 19 },
      { type: 'log', min: yMin, max: 4626, ticks: [1, 10, 100, 1000], fmt: pow10, name: '# segments', nameGap: 29 },
      logMinor(6.23, 188), logMinor(yMin, 4626));
    A_PTS.forEach((pts, k) => {
      series.push(errS(ix, pts.map(([r, n]) => [r, Math.max(n - Math.sqrt(n), yMin * 1.001), n + Math.sqrt(n)]), COL[k], 1.8, 1));
      series.push(scatS(ix, undefined, pts, COL[k], 4));
    });
    A_FIT.forEach((f, k) => series.push(lineS(ix, 'a|' + A_LEG[k], f, COL[k], { ls: { type: [4, 3], width: 1.3 }, z: 6 })));
    legend.push(leg(A_LEG.map((t) => 'a|' + t), 179, 26, { w: 15, h: 8, fs: 8, pitch: 10, noSymbol: true }));
  }
  // ---- b ----
  {
    const yMin = 0.229;
    const ix = addPanel([371, 30, 279, 173],
      { type: 'log', min: 3.13, max: 4966, ticks: [10, 100, 1000], fmt: pow10, name: '{i|ℓ} (μm, log scale)', nameGap: 20 },
      { type: 'log', min: yMin, max: 4815, ticks: [1, 10, 100, 1000], fmt: pow10, name: '# segments', nameGap: 28 },
      logMinor(3.13, 4966), logMinor(yMin, 4815));
    B_PTS.forEach((pts, k) => {
      series.push(errS(ix, pts.map(([r, n]) => [r, Math.max(n - Math.sqrt(n), yMin * 1.001), n + Math.sqrt(n)]), COL[k], 1.8, 1));
      series.push(scatS(ix, undefined, pts, COL[k], 4.5));
    });
    B_FIT.forEach((f, k) => series.push(lineS(ix, 'b|' + B_LEG[k], f, COL[k], { smooth: true, ls: { width: 1.5 } })));
    legend.push(leg(B_LEG.map((t) => 'b|' + t), 433, 149, { w: 14, h: 8, fs: 9, pitch: 9.75, noSymbol: true }));
  }
  // ---- c ----
  {
    const ix = addPanel([704, 29, 281, 176.5],
      { min: 1, max: 10, ticks: [2, 4, 6, 8, 10], name: 'γ', nameGap: 19 },
      { min: 0, max: 0.4, ticks: [0.1, 0.2, 0.3, 0.4], name: 'Least-squares error', nameGap: 26 });
    const cc = [...COL, BROWN];
    C_CI.forEach((ci, k) => series.push(bandS(ix, [[ci[0], 0, 0.4], [ci[1], 0, 0.4]], cc[k], 0.14)));
    series.push(lineS(ix, 'c|Murray  γ=3', [[MURRAY, 0], [MURRAY, 0.4]], '#9a9a9a', { ls: { type: [3, 2], width: 1 }, z: 3 }));
    C_ERR.forEach((ys, k) => series.push(lineS(ix, undefined, C_GAMMA.map((g, i) => [g, ys[i]]), cc[k], { smooth: true, ls: { width: 1.5 } })));
    C_OPT.forEach((g, k) => series.push(scatS(ix, 'c|' + C_LEG[k], [[g, C_OPT_ERR[k]]], cc[k], 8)));
    legend.push(leg([...C_LEG.map((t) => 'c|' + t), { name: 'c|Murray  γ=3', itemStyle: { opacity: 0 } }], 822, 34, { w: 14, h: 6, fs: 8.5, pitch: 10.33 }));
  }
  // ---- d, e, f ----
  const genPanel = (key: string, rect: number[], ya: any, minY: number[], vals: number[][], errs: number[][], fits: any[], legs: string[], legPos: number[], legO: any) => {
    const ix = addPanel(rect, { min: 0.65, max: 8.35, ticks: range(1, 8), name: 'Generation', nameGap: 16.5 }, ya, null, minY);
    vals.forEach((v, k) => {
      const pts = v.map((y, i) => [i + 1, y - errs[k][i], y + errs[k][i]]);
      series.push(bandS(ix, pts, COL[k], 0.2));
    });
    vals.forEach((v, k) => {
      series.push(errS(ix, v.map((y, i) => [i + 1, y - errs[k][i], y + errs[k][i]]), COL[k], 2, 1));
      series.push(scatS(ix, undefined, v.map((y, i) => [i + 1, y]), COL[k], 6.5));
    });
    fits.forEach((f, k) => series.push(lineS(ix, key + '|' + legs[k], f, COL[k], { ls: { width: 1.5 } })));
    legend.push(leg(legs.map((t) => key + '|' + t), legPos[0], legPos[1], { ...legO, noSymbol: true }));
  };
  genPanel('d', [47, 265, 272, 168],
    { type: 'log', min: 1, max: 31000, ticks: [1, 10, 100, 1000, 10000], fmt: pow10, name: '# segments (log)', nameGap: 28 },
    logMinor(1, 31000), D_VAL, D_ERR, D_FIT, D_LEG, [65, 374], { w: 20, h: 8, fs: 7.5, pitch: 10 });
  genPanel('e', [371, 270, 273, 162],
    { type: 'log', min: 4.64, max: 81.9, ticks: [10], fmt: pow10, name: '⟨{i|r}⟩ (μm)', nameGap: 26 },
    logMinor(4.64, 81.9), E_VAL, E_ERR, E_FIT, E_LEG, [498, 378], { w: 15, h: 8, fs: 8, pitch: 10.5 });
  genPanel('f', [705, 269, 275, 163],
    { type: 'log', min: 86.3, max: 417, ticks: [200, 400], fmt: (v: number) => String(Math.round(v / 100)), name: '⟨{i|ℓ}⟩ (μm)', nameGap: 16 },
    [100, 300], F_VAL, F_ERR, F_FIT, F_LEG, [716, 272], { w: 15, h: 8, fs: 8, pitch: 10.25 });
  elements.push({ type: 'text', x: 706, y: 261, style: { text: '×10²', fontSize: 10, fontFamily: TICKF, fill: INK, verticalAlign: 'middle', textVerticalAlign: 'middle' } });

  // ---- g, h, i ----
  const ratioPanel = (key: string, rect: number[], xa: any, ya: any, vals: number[][], errs: number[][], legPos: number[], legO: any, extra?: (ix: any) => void) => {
    const ix = addPanel(rect, xa, ya);
    vals.forEach((v, k) => series.push(bandS(ix, v.map((y, i) => [i + 1, y - errs[k][i], y + errs[k][i]]), COL[k], 0.2)));
    if (extra) extra(ix);
    vals.forEach((v, k) => {
      series.push(errS(ix, v.map((y, i) => [i + 1, y - errs[k][i], y + errs[k][i]]), COL[k], 2, 1));
      series.push(lineS(ix, key + '|' + SPECIES[k], v.map((y, i) => [i + 1, y]), COL[k], { symbol: 'circle', symbolSize: 6.5, ls: { width: 1.6 } }));
    });
    const names: any[] = SPECIES.map((s) => key + '|' + s);
    if (key === 'g') names.push({ name: 'g|0.5', itemStyle: { opacity: 0 } });
    legend.push(leg(names, legPos[0], legPos[1], legO));
  };
  ratioPanel('g', [42, 497, 291, 172],
    { min: 0.65, max: 8.35, ticks: range(1, 8), name: 'Generation', nameGap: 17.5 },
    { min: 0, max: 3, ticks: [0, 1, 2, 3], name: '{i|N}{s|g + 1}{i|/N}{s|g}', nameGap: 17 },
    G_VAL, G_ERR, [240, 491], { w: 17, h: 7, fs: 9, pitch: 12.6 },
    (ix) => series.push(lineS(ix, 'g|0.5', [[0.65, G_REF], [8.35, G_REF]], '#9a9a9a', { ls: { type: [4, 3], width: 1.2 }, z: 2 })));
  ratioPanel('h', [370, 493, 297, 175],
    { min: 0.7, max: 7.3, ticks: range(1, 7), name: 'Generation', nameGap: 17 },
    { min: 0, max: 4, ticks: [0, 1, 2, 3, 4], name: '⟨{i|r}⟩{s|n + 1}/⟨{i|r}⟩{s|n}', nameGap: 17 },
    H_VAL, H_ERR, [390, 496], { w: 17, h: 7, fs: 9, pitch: 12 });
  ratioPanel('i', [706, 493, 289, 172],
    { min: 0.7, max: 7.3, ticks: range(1, 7), name: 'Generation', nameGap: 18 },
    { min: 0, max: 4, ticks: [0, 1, 2, 3, 4], name: '⟨{i|ℓ}⟩{s|n + 1}/⟨{i|ℓ}⟩{s|n}', nameGap: 13 },
    I_VAL, I_ERR, [719, 494], { w: 17, h: 7, fs: 9, pitch: 12.2 });

  // ---- j ----
  {
    const ix = addPanel([63, 753, 260, 170],
      { min: 1.43, max: 4.55, ticks: J_CHILDREN, name: '# children', nameGap: 14 },
      { min: 0, max: 23600, ticks: [0, 5000, 10000, 15000, 20000], name: '# branch points', nameGap: 36 });
    J_COUNTS.forEach((row, k) => {
      series.push({
        type: 'bar', ...ix, name: 'j|' + SPECIES[k], silent: true, barWidth: 13.3, barGap: '0%',
        data: J_CHILDREN.map((c, m) => [c, row[m]]).filter((d) => d[1] > 0),
        itemStyle: { color: COL[k] },
        label: { show: true, position: 'top', distance: 1, fontSize: 9, fontFamily: TICKF, color: INK },
      });
    });
    legend.push(leg(SPECIES.map((s) => 'j|' + s), 232, 741, { w: 13, h: 6, fs: 9, pitch: 12, icon: 'rect' }));
  }
  // ---- k, l ----
  const distPanel = (key: string, rect: number[], xa: any, ya: any, minX: number[] | null, minY: number[], pts: number[][][], fits: number[][][], peaks: number[][], legs: string[], legPos: number[], legO: any) => {
    const ix = addPanel(rect, xa, ya, minX, minY);
    fits.forEach((f, k) => series.push(lineS(ix, undefined, f, COL[k], { smooth: true, ls: { width: 1.6, opacity: 0.6 }, z: 2 })));
    pts.forEach((p, k) => {
      series.push(errS(ix, p.map(([x, y, e]) => [x, y * (1 - e), y * (1 + e)]), COL[k], 2, 1));
      series.push(scatS(ix, key + '|' + legs[k], p.map(([x, y]) => [x, y]), COL[k], 5));
    });
    peaks.forEach((pk, k) => series.push(scatS(ix, undefined, [pk], COL[k], 9, { is: { borderColor: '#fff', borderWidth: 1.5 }, z: 7 })));
    legend.push(leg(legs.map((t) => key + '|' + t), legPos[0], legPos[1], legO));
  };
  distPanel('k', [374, 737, 236, 183],
    { type: 'log', min: 1, max: 4.83, ticks: [1, 2, 3, 4], fmt: (v: number) => (v === 1 ? '10⁰' : v + ' × 10⁰'), name: '{i|r}{s|parent}/⟨{i|r}⟩{s|children}', nameGap: 15 },
    { type: 'log', min: 0.000201, max: 0.0716, ticks: [0.001, 0.01], fmt: pow10, name: 'probability', nameGap: 35 },
    null, logMinor(0.000201, 0.0716), K_PTS, K_FIT, K_PEAK, K_LEG, [504, 732], { w: 22, h: 6, fs: 8.5, pitch: 11.2 });
  distPanel('l', [707, 737, 237, 182],
    { type: 'log', min: 1, max: 20.3, ticks: [1, 10], fmt: pow10, name: '{i|ℓ}{s|parent}/⟨{i|ℓ}⟩{s|children}', nameGap: 19 },
    { type: 'log', min: 0.00021, max: 0.069, ticks: [0.001, 0.01], fmt: pow10, name: 'probability', nameGap: 33 },
    logMinor(1, 20.3), logMinor(0.00021, 0.069), L_PTS, L_FIT, L_PEAK, L_LEG, [838, 732], { w: 20, h: 6, fs: 8.5, pitch: 12 });

  // ---- titles ----
  TITLES.forEach(([letter, lx, ly, title, tx, ty]) => {
    if (letter) elements.push({ type: 'text', x: lx, y: ly, style: { text: letter, fontSize: 19, fontFamily: TITLEF, fill: '#111', verticalAlign: 'middle', textVerticalAlign: 'middle' } });
    elements.push({ type: 'text', x: tx, y: ty, style: { text: title, fontSize: 15, fontFamily: TITLEF, fill: '#111', verticalAlign: 'middle', textVerticalAlign: 'middle' } });
  });

  return {
    animation: false,
    backgroundColor: '#ffffff',
    textStyle: { fontFamily: TICKF },
    grid, xAxis, yAxis, series, legend,
    graphic: { elements },
  };
}

export default function App() {
  const ref = useRef<HTMLDivElement>(null);
  useEffect(() => {
    const chart = echarts.init(ref.current as HTMLDivElement, null, { renderer: 'svg', width: 1036, height: 960 });
    chart.setOption(buildOption() as any);
    return () => chart.dispose();
  }, []);
  return (
    <div style={{ position: 'absolute', left: 0, top: 0, width: 1036, height: 1200, overflow: 'hidden', background: '#fff' }}>
      <div ref={ref} style={{ position: 'absolute', left: 0, top: 0, width: 1036, height: 960 }} />
      {CAPTION.map((line, i) => (
        <div key={i} style={{ position: 'absolute', left: 8, width: 1020, top: CAP_CENTERS[i] - CAP_LH / 2, height: CAP_LH, fontFamily: 'Liberation Sans, Arial, sans-serif', fontSize: 19.5, lineHeight: CAP_LH + 'px', color: '#000', textAlign: 'justify', textAlignLast: 'justify', whiteSpace: 'nowrap' }}>
          {line.map(([w, t], j) => (
            <span key={j} style={{ fontWeight: w === 'b' ? 'bold' : 'normal' }}>{t}</span>
          ))}
        </div>
      ))}
    </div>
  );
}
